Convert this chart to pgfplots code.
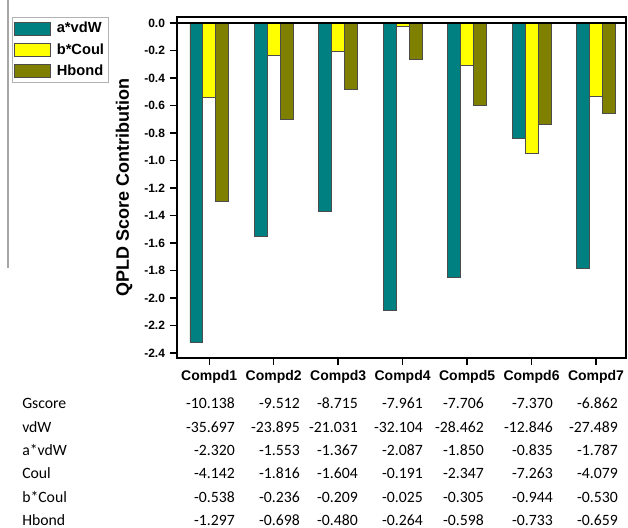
\documentclass[border=0pt]{standalone}
\usepackage{pgfplots}
\usepackage{pgfplotstable}
\pgfplotsset{compat=1.18}
\usepackage{fontspec}
\setmainfont{Liberation Sans}
\newfontfamily\calibri{Carlito}
\definecolor{tealc}{RGB}{0,128,128}
\definecolor{yellowc}{RGB}{255,255,0}
\definecolor{olivec}{RGB}{128,128,0}

\pgfplotstableread{
x avdw bcoul hbond
0 -2.320 -0.538 -1.297
1 -1.553 -0.236 -0.698
2 -1.367 -0.209 -0.480
3 -2.087 -0.025 -0.264
4 -1.850 -0.305 -0.598
5 -0.835 -0.944 -0.733
6 -1.787 -0.530 -0.659
}\datatable

\begin{document}
\begin{tikzpicture}
\path[use as bounding box] (0,0) rectangle (471pt,-396pt);
\draw[gray!70, line width=0.8pt] (6pt,0pt) -- (6pt,-201pt);
\begin{axis}[
  at={(132.75pt,-268.5pt)}, anchor=south west,
  scale only axis, width=336.75pt, height=255.75pt,
  xmin=-0.5, xmax=6.465, ymin=-2.436, ymax=0.044,
  xtick={0,1,2,3,4,5,6},
  xticklabels={Compd1,Compd2,Compd3,Compd4,Compd5,Compd6,Compd7},
  ytick={-2.4,-2.2,-2.0,-1.8,-1.6,-1.4,-1.2,-1.0,-0.8,-0.6,-0.4,-0.2,0},
  yticklabel style={font=\bfseries\fontsize{9}{10}\selectfont, /pgf/number format/fixed, /pgf/number format/fixed zerofill, /pgf/number format/precision=1, /pgf/number format/assume math mode=true},
  xticklabel style={font=\bfseries\fontsize{10.5}{12}\selectfont},
  tick pos=left, tick align=outside, major tick length=5.5pt,
  tick style={black, line width=1pt},
  axis line style={line width=1.2pt},
  ylabel={QPLD Score Contribution},
  ylabel style={font=\bfseries\fontsize{13.5}{15}\selectfont, at={(axis description cs:-0.118,0.5)}, anchor=center},
  legend style={at={(axis description cs:-0.3675,1.0)}, anchor=north west, draw=gray!60, line width=0.8pt, fill=white,
    font=\bfseries\fontsize{11}{12}\selectfont, inner xsep=1.2pt, inner ysep=1.5pt, row sep=2.5pt},
  legend cell align=left,
  legend image code/.code={\draw[#1, draw=black!70, line width=0.5pt] (0pt,-4.9pt) rectangle (27pt,4.9pt); \path (29.5pt,0pt);},
  clip=false,
]
\addplot[ybar, bar width=0.2, bar shift=-0.2, fill=tealc, draw=black!70, line width=0.5pt] table[x=x,y=avdw]{\datatable};
\addlegendentry{a*vdW}
\addplot[ybar, bar width=0.2, bar shift=0, fill=yellowc, draw=black!70, line width=0.5pt] table[x=x,y=bcoul]{\datatable};
\addlegendentry{b*Coul}
\addplot[ybar, bar width=0.2, bar shift=0.2, fill=olivec, draw=black!70, line width=0.5pt] table[x=x,y=hbond]{\datatable};
\addlegendentry{Hbond}
\draw[black, line width=1pt] (axis cs:-0.5,0) -- (axis cs:6.465,0);
\end{axis}
% data table below the chart
\begin{scope}[every node/.style={font=\calibri\fontsize{11.8}{13}\selectfont, inner sep=0pt}]
\foreach \lab/\yy in {Gscore/-306pt, vdW/-324pt, a*vdW/-341.25pt, Coul/-358.5pt, b*Coul/-376.5pt, Hbond/-393.75pt}
  \node[anchor=base west] at (16.5pt,\yy) {\lab};
\foreach \yy/\a/\b/\c/\d/\e/\f/\g in {
  -306pt/-10.138/-9.512/-8.715/-7.961/-7.706/-7.370/-6.862,
  -324pt/-35.697/-23.895/-21.031/-32.104/-28.462/-12.846/-27.489,
  -341.25pt/-2.320/-1.553/-1.367/-2.087/-1.850/-0.835/-1.787,
  -358.5pt/-4.142/-1.816/-1.604/-0.191/-2.347/-7.263/-4.079,
  -376.5pt/-0.538/-0.236/-0.209/-0.025/-0.305/-0.944/-0.530,
  -393.75pt/-1.297/-0.698/-0.480/-0.264/-0.598/-0.733/-0.659}{
  \node[anchor=base east] at (176.25pt,\yy) {\a};
  \node[anchor=base east] at (225pt,\yy) {\b};
  \node[anchor=base east] at (268.5pt,\yy) {\c};
  \node[anchor=base east] at (317.25pt,\yy) {\d};
  \node[anchor=base east] at (363pt,\yy) {\e};
  \node[anchor=base east] at (414.75pt,\yy) {\f};
  \node[anchor=base east] at (463.5pt,\yy) {\g};
}
\end{scope}
\end{tikzpicture}
\end{document}
